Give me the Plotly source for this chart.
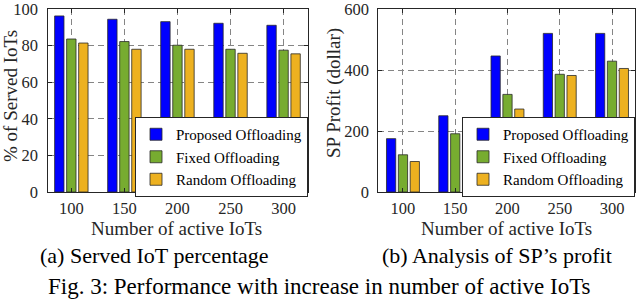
import plotly.graph_objects as go

# ---- data ----
iots = [100, 150, 200, 250, 300]
tick_labels = ["100", "150", "200", "250", "300"]
series_names = ["Proposed Offloading", "Fixed Offloading", "Random Offloading"]
served_proposed = [96.2, 94.4, 93.1, 92.2, 91.1]
served_fixed = [83.6, 82.2, 80.2, 78.0, 77.5]
served_random = [81.4, 78.0, 78.0, 75.8, 75.5]
profit_proposed = [175, 250, 446, 520, 520]
profit_fixed = [122, 191, 320, 386, 429]
profit_random = [100, 170, 272, 382, 405]
colors = ["#0000FF", "#77AC30", "#EDB120"]

FONT = "Liberation Serif"
W, H = 640, 299

fig = go.Figure()
left_sets = [served_proposed, served_fixed, served_random]
right_sets = [profit_proposed, profit_fixed, profit_random]
for name, vals, col in zip(series_names, left_sets, colors):
    fig.add_trace(go.Bar(x=iots, y=vals, name=name, marker_color=col,
                         marker_line=dict(color="#2a2a2a", width=0.8),
                         xaxis="x", yaxis="y", legend="legend"))
for name, vals, col in zip(series_names, right_sets, colors):
    fig.add_trace(go.Bar(x=iots, y=vals, name=name, marker_color=col,
                         marker_line=dict(color="#2a2a2a", width=0.8),
                         xaxis="x2", yaxis="y2", legend="legend2"))

def px_x(p):
    return p / W

def px_y(p):
    return 1 - p / H

axis_common = dict(
    showline=True, mirror="ticks", linecolor="#262626", linewidth=1,
    ticks="inside", ticklen=4, tickcolor="#262626", automargin=False,
    ticklabeloverflow="allow",
    showgrid=True, gridcolor="#858585", griddash="6px,4px", gridwidth=1,
    zeroline=False, tickfont=dict(family=FONT, size=16.5, color="#262626"),
)

fig.update_layout(
    template="none",
    width=W, height=H,
    margin=dict(l=0, r=0, t=0, b=0, pad=0),
    paper_bgcolor="white", plot_bgcolor="white",
    barmode="group", bargap=0.32, bargroupgap=0.22,
    font=dict(family=FONT, color="#262626"),
    xaxis=dict(domain=[px_x(48.3), px_x(308.3)], anchor="y",
               range=[78.3, 323.3], tickvals=iots, ticktext=tick_labels,
               ticklabelstandoff=1, **axis_common),
    yaxis=dict(domain=[px_y(192), px_y(9)], anchor="x",
               range=[0, 100], tickvals=[0, 20, 40, 60, 80, 100],
               ticklabelstandoff=6, **axis_common),
    xaxis2=dict(domain=[px_x(378.3), px_x(635)], anchor="y2",
                range=[76.4, 322], tickvals=iots, ticktext=tick_labels,
                ticklabelstandoff=1, **axis_common),
    yaxis2=dict(domain=[px_y(192), px_y(9)], anchor="x2",
                range=[0, 600], tickvals=[0, 200, 400, 600],
                ticklabelstandoff=5, **axis_common),
    legend=dict(x=px_x(308), y=px_y(117), xanchor="right", yanchor="top",
                bgcolor="white", bordercolor="#262626", borderwidth=1,
                font=dict(family=FONT, size=15, color="black"),
                tracegroupgap=0, itemwidth=30),
    legend2=dict(x=px_x(635), y=px_y(117), xanchor="right", yanchor="top",
                 bgcolor="white", bordercolor="#262626", borderwidth=1,
                 font=dict(family=FONT, size=15, color="black"),
                 tracegroupgap=0, itemwidth=30),
)

ann = []
def add_text(text, x, y, size, angle=0, color="#262626"):
    ann.append(dict(text=text, x=px_x(x), y=px_y(y), xref="paper", yref="paper",
                    showarrow=False, xanchor="center", yanchor="middle",
                    textangle=angle, font=dict(family=FONT, size=size, color=color)))

add_text("Number of active IoTs", 176.7, 228, 19)
add_text("Number of active IoTs", 506.7, 228, 19)
add_text("% of Served IoTs", 10, 96, 19, angle=-90)
add_text("SP Profit (dollar)", 334, 93, 19, angle=-90)
add_text("(a) Served IoT percentage", 154, 255, 22, color="black")
add_text("(b) Analysis of SP\u2019s profit", 496.7, 255, 22, color="black")
add_text("Fig. 3: Performance with increase in number of active IoTs", 319, 286, 23, color="black")
fig.update_layout(annotations=ann)

fig.write_html("out.html", config={"displayModeBar": False},
               post_script="document.body.style.margin='0px';document.body.style.overflow='hidden';")
